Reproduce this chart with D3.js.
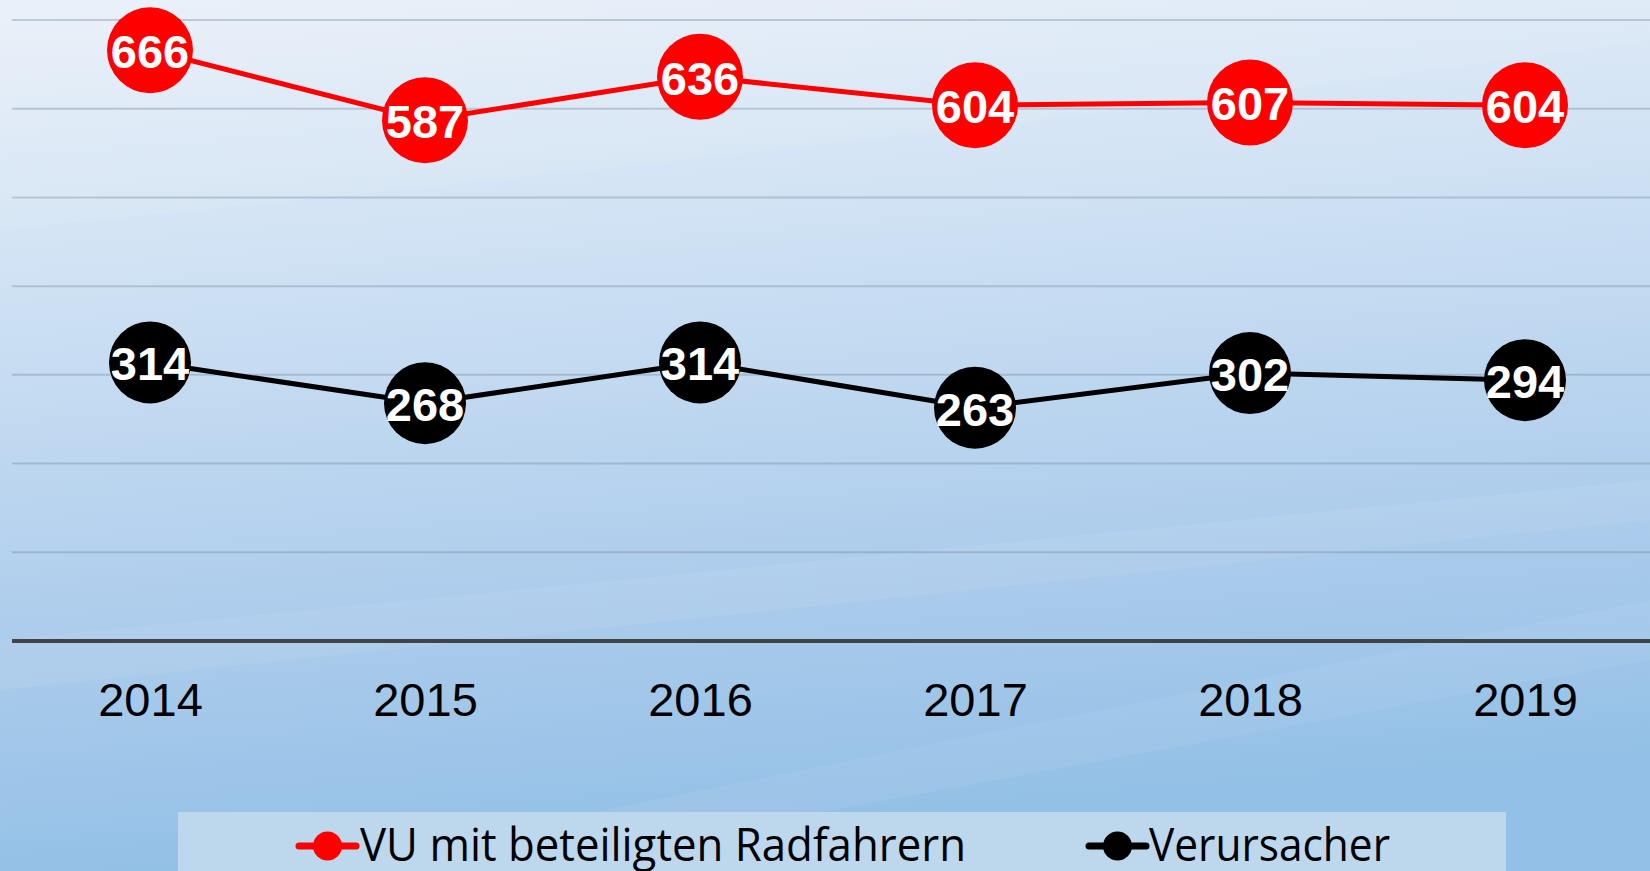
<!DOCTYPE html>
<html>
<head>
<meta charset="utf-8">
<script src="https://cdn.jsdelivr.net/npm/d3@7"></script>
<style>
  html, body { margin: 0; padding: 0; overflow: hidden; }
  svg { display: block; }
</style>
</head>
<body>
<svg id="chart" width="1650" height="871"></svg>
<script>
  /*
   * Data
   */
  var YEARS = ["2014", "2015", "2016", "2017", "2018", "2019"];
  var VU_RAD = [666, 587, 636, 604, 607, 604];
  var VERURSACHER = [314, 268, 314, 263, 302, 294];
  var Y_TICKS = [100, 200, 300, 400, 500, 600, 700];
  var SERIES_NAMES = ["VU mit beteiligten Radfahrern", "Verursacher"];

  var W = 1650, H = 871;
  var svg = d3.select("#chart");

  // background
  var defs = svg.append("defs");
  var bg = defs.append("linearGradient")
    .attr("id", "bg").attr("x1", 0).attr("y1", 0).attr("x2", 0.15).attr("y2", 1);
  bg.append("stop").attr("offset", "0%").attr("stop-color", "#e9f0f9");
  bg.append("stop").attr("offset", "35%").attr("stop-color", "#cde0f3");
  bg.append("stop").attr("offset", "70%").attr("stop-color", "#aecdec");
  bg.append("stop").attr("offset", "100%").attr("stop-color", "#93c0e6");
  svg.append("rect").attr("width", W).attr("height", H).attr("fill", "url(#bg)");

  // faint diagonal streaks
  svg.append("path")
    .attr("d", "M0,640 L1650,480 L1650,520 L0,690 Z")
    .attr("fill", "#ffffff").attr("opacity", 0.07);
  svg.append("path")
    .attr("d", "M0,230 C500,180 1100,120 1650,40 L1650,0 L0,0 Z")
    .attr("fill", "#ffffff").attr("opacity", 0.08);
  svg.append("path")
    .attr("d", "M300,871 L1650,600 L1650,660 L500,871 Z")
    .attr("fill", "#ffffff").attr("opacity", 0.06);

  // scales
  var x = d3.scalePoint().domain(YEARS).range([12.5, 1662.5]).padding(0.5);
  var y = d3.scaleLinear().domain([0, 700]).range([641, 20]);

  // gridlines
  svg.append("g").selectAll("line")
    .data(Y_TICKS)
    .enter().append("line")
      .attr("x1", 12).attr("x2", W)
      .attr("y1", d => y(d)).attr("y2", d => y(d))
      .attr("stroke", "#6f8296")
      .attr("stroke-opacity", 0.35)
      .attr("stroke-width", 2);

  // x axis
  var xaxis = svg.append("g")
    .attr("transform", "translate(0," + y(0) + ")")
    .call(d3.axisBottom(x).tickSize(0).tickPadding(42));
  xaxis.select(".domain").remove();
  xaxis.selectAll("text")
    .attr("font-family", "'Liberation Sans', Arial, sans-serif")
    .attr("font-size", 47)
    .attr("fill", "#000");
  svg.append("line")
    .attr("x1", 12).attr("x2", W)
    .attr("y1", y(0)).attr("y2", y(0))
    .attr("stroke", "#404347").attr("stroke-width", 4);

  // series
  var series = [
    { name: SERIES_NAMES[0], values: VU_RAD, color: "#ff0000", r: 43 },
    { name: SERIES_NAMES[1], values: VERURSACHER, color: "#000000", r: 41 }
  ];

  var line = d3.line()
    .x((d, i) => x(YEARS[i]))
    .y(d => y(d));

  series.forEach(function (s) {
    var g = svg.append("g");
    g.append("path")
      .attr("d", line(s.values))
      .attr("fill", "none")
      .attr("stroke", s.color)
      .attr("stroke-width", 5);
    var pts = g.selectAll("g.pt")
      .data(s.values)
      .enter().append("g")
        .attr("class", "pt")
        .attr("transform", (d, i) => "translate(" + x(YEARS[i]) + "," + y(d) + ")");
    pts.append("circle")
      .attr("r", s.r)
      .attr("fill", s.color);
    pts.append("text")
      .attr("text-anchor", "middle")
      .attr("dy", "0.38em")
      .attr("font-family", "'Liberation Sans', Arial, sans-serif")
      .attr("font-weight", "bold")
      .attr("font-size", 47)
      .attr("fill", "#ffffff")
      .text(d => d);
  });

  // legend
  var legend = svg.append("g");
  legend.append("rect")
    .attr("x", 178).attr("y", 812)
    .attr("width", 1328).attr("height", 70)
    .attr("fill", "#bdd7ed");

  var legendItems = [
    { s: series[0], lx: 299, tx: 360, tw: 606 },
    { s: series[1], lx: 1089, tx: 1149, tw: 241 }
  ];
  legendItems.forEach(function (it) {
    var lg = legend.append("g");
    lg.append("line")
      .attr("x1", it.lx).attr("x2", it.lx + 57)
      .attr("y1", 846).attr("y2", 846)
      .attr("stroke", it.s.color)
      .attr("stroke-width", 7)
      .attr("stroke-linecap", "round");
    lg.append("circle")
      .attr("cx", it.lx + 28.5).attr("cy", 846)
      .attr("r", 14.5)
      .attr("fill", it.s.color);
    lg.append("text")
      .attr("x", it.tx).attr("y", 861)
      .attr("font-family", "'Open Sans', 'Noto Sans', sans-serif")
      .attr("font-size", 46)
      .attr("textLength", it.tw)
      .attr("lengthAdjust", "spacingAndGlyphs")
      .attr("fill", "#000")
      .text(it.s.name);
  });
</script>
</body>
</html>
